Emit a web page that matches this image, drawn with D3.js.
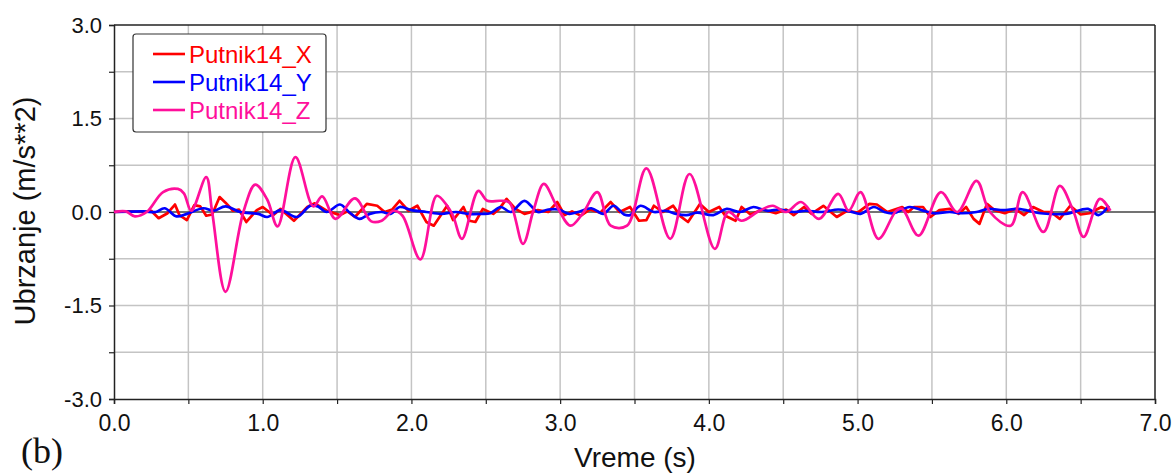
<!DOCTYPE html>
<html><head><meta charset="utf-8">
<script src="https://cdn.jsdelivr.net/npm/d3@7"></script>
<style>body{margin:0;background:#fff}svg{display:block}</style>
</head><body><svg id="c" width="1176" height="475"></svg>
<script>
// ---- data (time s, acceleration m/s^2) ----
const seriesNames = ["Putnik14_X", "Putnik14_Y", "Putnik14_Z"];
const seriesColors = ["#ff0000", "#0000ff", "#ff0f9b"];
const xTickLabels = ["0.0","1.0","2.0","3.0","4.0","5.0","6.0","7.0"];
const yTickLabels = ["-3.0","-1.5","0.0","1.5","3.0"];

const putnikX = [[0,0],[0.1,0.01],[0.2,0],[0.25,0.02],[0.30,-0.1],[0.36,-0.02],[0.41,0.12],[0.44,-0.05],[0.49,-0.13],[0.54,0.11],[0.58,0.09],[0.62,-0.06],[0.66,-0.04],[0.71,0.24],[0.75,0.15],[0.80,0.02],[0.84,0.04],[0.89,-0.16],[0.96,0.03],[1.00,0.08],[1.07,-0.05],[1.12,0.05],[1.21,-0.14],[1.30,0.08],[1.35,0.14],[1.43,0.02],[1.52,-0.05],[1.57,0.01],[1.62,-0.08],[1.70,0.13],[1.77,0.10],[1.82,0],[1.87,0.04],[1.92,0.18],[1.98,0.02],[2.04,0.10],[2.10,-0.16],[2.15,-0.22],[2.24,0.10],[2.28,-0.13],[2.35,0.08],[2.39,-0.14],[2.43,-0.16],[2.48,0.05],[2.55,-0.03],[2.59,0.05],[2.64,0.21],[2.70,0.05],[2.76,-0.03],[2.85,0.03],[2.92,0],[2.98,0.16],[3.03,-0.05],[3.08,0.01],[3.14,-0.06],[3.20,0.04],[3.27,-0.01],[3.34,0.16],[3.40,0],[3.47,0.08],[3.53,-0.14],[3.58,-0.13],[3.63,0.10],[3.69,0],[3.76,0.10],[3.81,-0.07],[3.86,-0.16],[3.94,0.13],[4.00,0],[4.07,0.08],[4.11,-0.06],[4.18,-0.14],[4.22,0.08],[4.28,-0.04],[4.36,0.04],[4.45,-0.02],[4.52,0.04],[4.57,-0.05],[4.64,0.08],[4.69,-0.03],[4.77,0.10],[4.86,-0.08],[4.93,0.02],[5.00,-0.01],[5.08,0.13],[5.13,0.12],[5.20,0],[5.30,0.08],[5.34,0],[5.38,0.08],[5.44,0.08],[5.49,-0.08],[5.55,0.03],[5.62,0.05],[5.68,-0.03],[5.73,0.08],[5.78,-0.11],[5.82,-0.19],[5.87,0.13],[5.92,0.03],[5.99,-0.02],[6.06,0.05],[6.12,-0.05],[6.18,0.08],[6.25,0],[6.30,0],[6.36,-0.11],[6.43,0.10],[6.50,-0.04],[6.56,-0.02],[6.64,0.08],[6.69,0.02]];

const putnikY = [[0,0],[0.2,0.01],[0.28,0],[0.34,0.06],[0.42,-0.07],[0.49,-0.03],[0.60,0.06],[0.67,0.02],[0.75,0.09],[0.85,0],[0.97,-0.03],[1.03,-0.08],[1.12,0.03],[1.23,-0.08],[1.32,0.10],[1.37,0.09],[1.43,0],[1.52,0.12],[1.58,0],[1.65,-0.11],[1.72,-0.03],[1.80,0],[1.86,-0.03],[1.92,0.08],[2.0,0.03],[2.1,0],[2.2,-0.03],[2.3,0],[2.38,-0.03],[2.47,-0.03],[2.53,-0.02],[2.60,0.08],[2.67,0],[2.76,0.18],[2.85,0],[2.92,0.04],[2.99,0.04],[3.06,-0.03],[3.12,0],[3.21,0.06],[3.29,-0.03],[3.36,0.10],[3.43,-0.04],[3.47,-0.05],[3.54,0.10],[3.63,0],[3.71,0.02],[3.78,-0.03],[3.85,-0.05],[3.92,-0.01],[4.03,-0.05],[4.12,0.05],[4.21,0],[4.30,0.08],[4.39,0.02],[4.48,0.04],[4.57,0],[4.65,0.02],[4.76,0],[4.87,0.04],[4.95,0.01],[5.02,-0.03],[5.11,0.08],[5.18,0],[5.24,-0.02],[5.35,0.08],[5.43,0.03],[5.51,-0.02],[5.62,0],[5.70,-0.02],[5.80,0],[5.88,0.05],[5.98,0.03],[6.08,0.05],[6.23,-0.02],[6.40,-0.03],[6.55,0.05],[6.62,-0.05],[6.69,0.10]];

const putnikZ = [[0,0],[0.08,0.01],[0.14,-0.07],[0.22,0],[0.33,0.32],[0.43,0.37],[0.47,0.30],[0.52,0.02],[0.62,0.56],[0.66,0],[0.75,-1.28],[0.87,0],[0.95,0.44],[1.03,0.20],[1.10,-0.23],[1.22,0.88],[1.34,0.09],[1.40,0.25],[1.49,-0.11],[1.62,0.22],[1.73,-0.15],[1.80,-0.14],[1.88,0.02],[1.94,-0.06],[2.06,-0.76],[2.17,0.26],[2.24,0.10],[2.28,-0.06],[2.34,-0.43],[2.45,0.34],[2.51,0.18],[2.60,0.18],[2.66,0.15],[2.75,-0.51],[2.82,0.02],[2.89,0.45],[2.98,0.08],[3.07,-0.22],[3.15,-0.03],[3.25,0.32],[3.34,-0.22],[3.45,-0.22],[3.58,0.70],[3.74,-0.43],[3.87,0.61],[4.04,-0.59],[4.13,0],[4.22,-0.14],[4.34,0.02],[4.43,0.10],[4.52,0],[4.62,0.16],[4.74,-0.11],[4.87,0.29],[4.94,0.02],[5.02,0.32],[5.14,-0.43],[5.26,0.02],[5.30,0.05],[5.41,-0.38],[5.56,0.32],[5.67,0],[5.80,0.50],[5.89,0],[6.03,-0.22],[6.11,0.32],[6.25,-0.32],[6.36,0.42],[6.45,0.02],[6.52,-0.40],[6.63,0.21],[6.70,0.02]];

const allSeries = [putnikX, putnikY, putnikZ];

// ---- layout ----
const svg = d3.select("#c");
const L = 114, R = 1155, T = 25, B = 399;
const x = d3.scaleLinear().domain([0, 7]).range([L, R]);
const y = d3.scaleLinear().domain([-3, 3]).range([B, T]);
const xGrid = d3.range(0, 7.001, 0.5);
const yGrid = d3.range(-3, 3.001, 0.75);

svg.append("rect").attr("width",1176).attr("height",475).attr("fill","#fff");

// grid
svg.append("g").selectAll("line").data(xGrid.filter(v=>v>0&&v<7)).join("line")
  .attr("x1",d=>x(d)).attr("x2",d=>x(d)).attr("y1",T).attr("y2",B)
  .attr("stroke","#c4c4c4").attr("stroke-width",1.5);
svg.append("g").selectAll("line").data(yGrid.filter(v=>v>-3&&v<3&&v!==0)).join("line")
  .attr("x1",L).attr("x2",R).attr("y1",d=>y(d)).attr("y2",d=>y(d))
  .attr("stroke","#c4c4c4").attr("stroke-width",1.5);
// zero line
svg.append("line").attr("x1",L).attr("x2",R).attr("y1",y(0)).attr("y2",y(0))
  .attr("stroke","#444").attr("stroke-width",1.5);

// axes
const xAxis = d3.axisBottom(x).tickValues(xGrid).tickSize(5)
  .tickFormat(d => Number.isInteger(d) ? xTickLabels[d] : "");
const gx = svg.append("g").attr("transform",`translate(0,${B})`).call(xAxis);
gx.select(".domain").attr("stroke","#222").attr("stroke-width",1.5);
gx.selectAll(".tick line").attr("stroke","#222").attr("stroke-width",1.2);
gx.selectAll("text").attr("font-family","Liberation Sans, Arial, sans-serif")
  .attr("font-size",23).attr("fill","#111").attr("dy","1.05em");

const yAxis = d3.axisLeft(y).tickValues(yGrid).tickSize(5)
  .tickFormat(d => { const i = [-3,-1.5,0,1.5,3].indexOf(d); return i>=0 ? yTickLabels[i] : ""; });
const gy = svg.append("g").attr("transform",`translate(${L},0)`).call(yAxis);
gy.select(".domain").attr("stroke","#222").attr("stroke-width",1.5);
gy.selectAll(".tick line").attr("stroke","#222").attr("stroke-width",1.2);
gy.selectAll("text").attr("font-family","Liberation Sans, Arial, sans-serif")
  .attr("font-size",22).attr("fill","#111").attr("x",-12);

// top & right frame
svg.append("line").attr("x1",L).attr("x2",R).attr("y1",T).attr("y2",T).attr("stroke","#222").attr("stroke-width",1.5);
svg.append("line").attr("x1",R).attr("x2",R).attr("y1",T).attr("y2",B).attr("stroke","#222").attr("stroke-width",1.5);

// series
const curves = [d3.curveLinear, d3.curveCatmullRom.alpha(0.5), d3.curveCatmullRom.alpha(0.5)];
allSeries.forEach((s,i) => {
  const line = d3.line().x(d=>x(d[0])).y(d=>y(d[1])).curve(curves[i]);
  svg.append("path").datum(s).attr("d",line).attr("fill","none")
    .attr("stroke",seriesColors[i]).attr("stroke-width",2.7).attr("stroke-linejoin","round");
});

// legend
const lg = svg.append("g");
lg.append("rect").attr("x",133).attr("y",34).attr("width",193).attr("height",98).attr("rx",3)
  .attr("fill","#fff").attr("stroke","#333").attr("stroke-width",1.2);
seriesNames.forEach((n,i) => {
  const yy = 54 + i*28;
  lg.append("line").attr("x1",153).attr("x2",185).attr("y1",yy).attr("y2",yy)
    .attr("stroke",seriesColors[i]).attr("stroke-width",2.6);
  lg.append("text").attr("x",189).attr("y",yy).attr("dy","0.36em").text(n)
    .attr("font-family","Liberation Sans, Arial, sans-serif").attr("font-size",24)
    .attr("fill",seriesColors[i]);
});

// axis titles
svg.append("text").attr("x",635).attr("y",467).attr("text-anchor","middle")
  .attr("font-family","Liberation Sans, Arial, sans-serif").attr("font-size",28).attr("fill","#111")
  .text("Vreme (s)");
svg.append("text").attr("transform",`translate(35,211) rotate(-90)`).attr("text-anchor","middle")
  .attr("font-family","Liberation Sans, Arial, sans-serif").attr("font-size",29).attr("fill","#111")
  .text("Ubrzanje (m/s**2)");
svg.append("text").attr("x",21).attr("y",463)
  .attr("font-family","Liberation Serif, Times New Roman, serif").attr("font-size",36).attr("fill","#111")
  .text("(b)");
</script></body></html>
